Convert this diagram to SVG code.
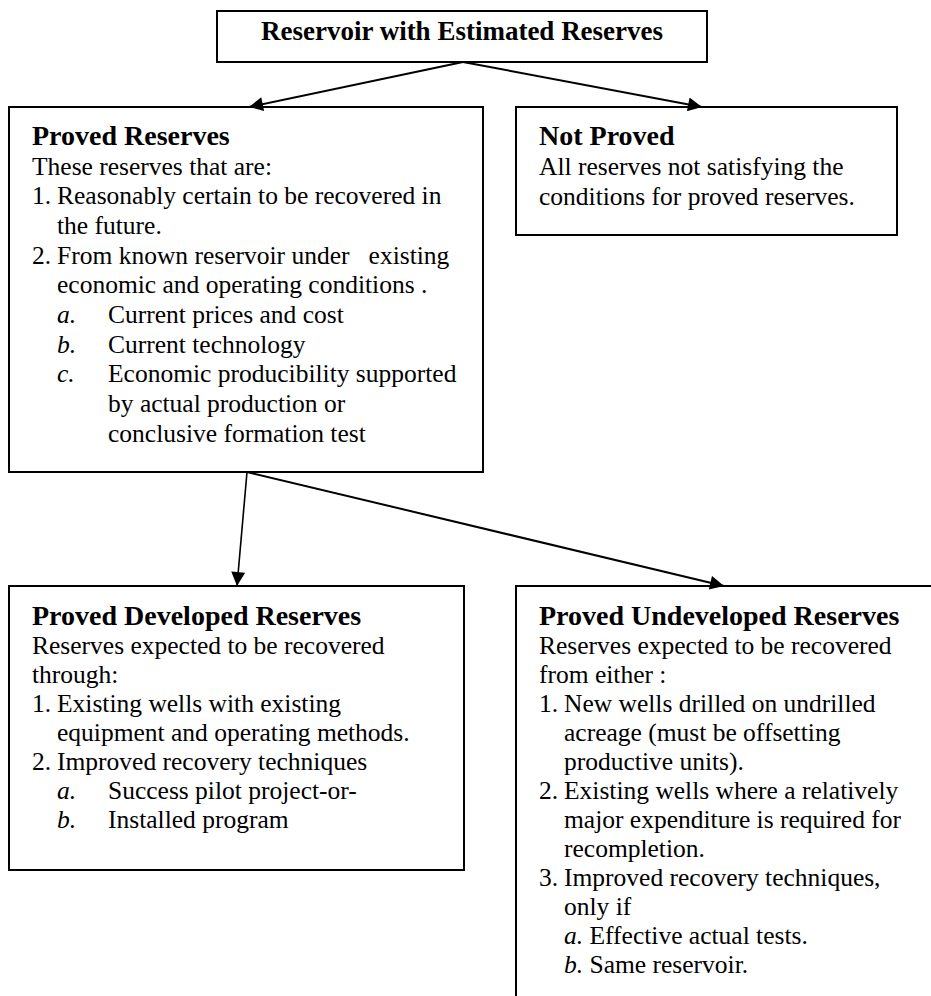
<svg xmlns="http://www.w3.org/2000/svg" width="931" height="996" viewBox="0 0 931 996">
<style>
.box{fill:#fff;stroke:#000;stroke-width:2}
.t{font-family:"Liberation Serif","Times New Roman",serif;font-size:25.5px;fill:#000;white-space:pre}
.h{font-family:"Liberation Serif","Times New Roman",serif;font-size:28px;font-weight:bold;fill:#000}
.i{font-style:italic}
.c{stroke:#000;stroke-width:2;fill:none}
</style>
<defs>
<marker id="ah" viewBox="0 0 10 10" refX="10" refY="5" markerWidth="18" markerHeight="14" markerUnits="userSpaceOnUse" orient="auto">
<path d="M0,0 L10,5 L0,10 Z" fill="#000"/>
</marker>
</defs>
<rect width="931" height="996" fill="#fff"/>

<g id="top">
<rect class="box" x="217" y="11" width="490" height="51"/>
<text class="h" x="462" y="40" text-anchor="middle" style="font-size:27px">Reservoir with Estimated Reserves</text>
</g>

<g id="proved">
<rect class="box" x="9" y="107" width="474" height="365"/>
<text class="h" x="32" y="145">Proved Reserves</text>
<text class="t" x="32" y="174.7">These reserves that are:</text>
<text class="t" x="32" y="204.3">1.</text><text class="t" x="57" y="204.3">Reasonably certain to be recovered in</text>
<text class="t" x="57" y="234">the future.</text>
<text class="t" x="32" y="263.6">2.</text><text class="t" x="57" y="263.6" xml:space="preserve">From known reservoir under   existing</text>
<text class="t" x="57" y="293.3">economic and operating conditions .</text>
<text class="t i" x="57" y="322.9">a.</text><text class="t" x="108" y="322.9">Current prices and cost</text>
<text class="t i" x="57" y="352.5">b.</text><text class="t" x="108" y="352.5">Current technology</text>
<text class="t i" x="57" y="382.2">c.</text><text class="t" x="108" y="382.2">Economic producibility supported</text>
<text class="t" x="108" y="411.9">by actual production or</text>
<text class="t" x="108" y="441.5">conclusive formation test</text>
</g>

<g id="notproved">
<rect class="box" x="516" y="107" width="381" height="128"/>
<text class="h" x="539" y="145">Not Proved</text>
<text class="t" x="539" y="175">All reserves not satisfying the</text>
<text class="t" x="539" y="204.5">conditions for proved reserves.</text>
</g>

<g id="developed">
<rect class="box" x="9" y="586" width="455" height="284"/>
<text class="h" x="32" y="625">Proved Developed Reserves</text>
<text class="t" x="32" y="654">Reserves expected to be recovered</text>
<text class="t" x="32" y="683">through:</text>
<text class="t" x="32" y="712">1.</text><text class="t" x="57" y="712">Existing wells with existing</text>
<text class="t" x="57" y="741">equipment and operating methods.</text>
<text class="t" x="32" y="770">2.</text><text class="t" x="57" y="770">Improved recovery techniques</text>
<text class="t i" x="57" y="799">a.</text><text class="t" x="108" y="799">Success pilot project-or-</text>
<text class="t i" x="57" y="828">b.</text><text class="t" x="108" y="828">Installed program</text>
</g>

<g id="undeveloped">
<rect class="box" x="516" y="586" width="430" height="430"/>
<text class="h" x="539" y="625">Proved Undeveloped Reserves</text>
<text class="t" x="539" y="654">Reserves expected to be recovered</text>
<text class="t" x="539" y="683">from either :</text>
<text class="t" x="539" y="712">1.</text><text class="t" x="564" y="712">New wells drilled on undrilled</text>
<text class="t" x="564" y="741">acreage (must be offsetting</text>
<text class="t" x="564" y="770">productive units).</text>
<text class="t" x="539" y="799">2.</text><text class="t" x="564" y="799">Existing wells where a relatively</text>
<text class="t" x="564" y="828">major expenditure is required for</text>
<text class="t" x="564" y="857">recompletion.</text>
<text class="t" x="539" y="886">3.</text><text class="t" x="564" y="886">Improved recovery techniques,</text>
<text class="t" x="564" y="915">only if</text>
<text class="t" x="564" y="944"><tspan class="i">a.</tspan> Effective actual tests.</text>
<text class="t" x="564" y="973"><tspan class="i">b.</tspan> Same reservoir.</text>
</g>

<g id="connectors">
<line class="c" x1="463" y1="62" x2="249" y2="107" marker-end="url(#ah)"/>
<line class="c" x1="463" y1="62" x2="702" y2="107" marker-end="url(#ah)"/>
<line class="c" x1="247" y1="472" x2="237" y2="586" marker-end="url(#ah)" style="stroke-width:1.6"/>
<line class="c" x1="247" y1="472" x2="724" y2="586" marker-end="url(#ah)"/>
</g>
</svg>
